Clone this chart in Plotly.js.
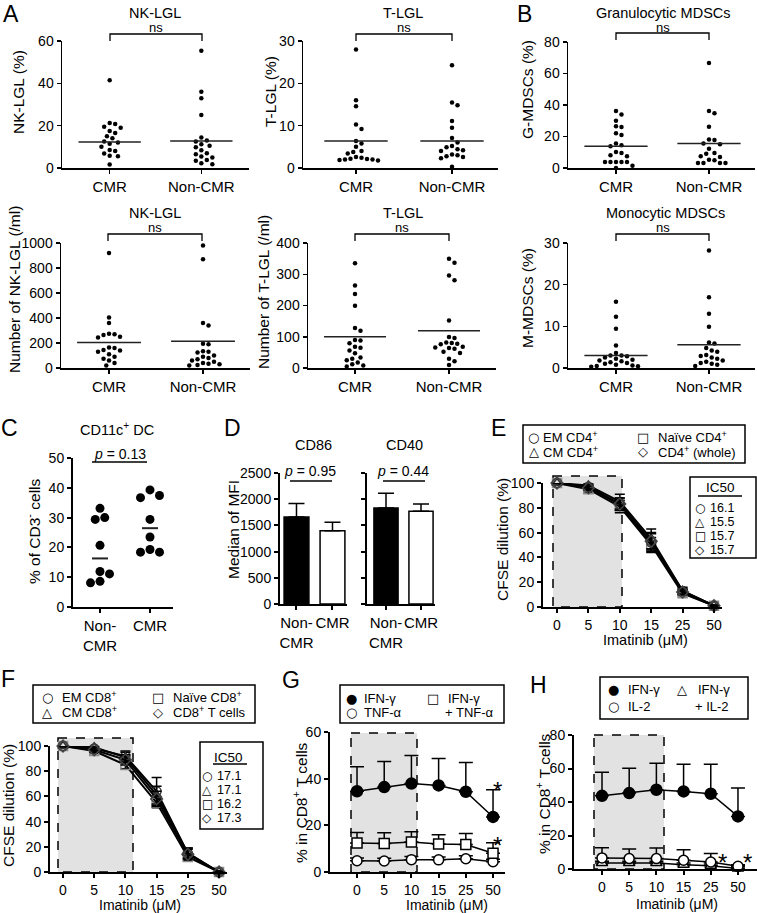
<!DOCTYPE html>
<html><head><meta charset="utf-8">
<script src="https://cdn.plot.ly/plotly-3.0.1.min.js"></script>
<style>body{margin:0;background:#fff}#chart{width:757px;height:913px}</style>
</head><body><div id="chart"></div>
<script>
// ================= DATA =================
const groups = ['CMR', 'Non-CMR'];
const groupsCD = ['Non-<br>CMR', 'CMR'];
const doses = ['0', '5', '10', '15', '25', '50'];

// A: NK-LGL (%)
const nkPctCMR = [41.5, 21.3, 20.8, 19.5, 19.0, 17.5, 16.5, 15, 14, 12.5, 12, 11.5, 10, 8.5, 8, 6.8, 5.8, 5.5, 1.6];
const nkPctNon = [55.4, 36, 33, 25, 14.4, 13, 12.5, 11.2, 10.5, 9.8, 8.4, 7, 6.5, 5.4, 5, 3.8, 3.4, 2.2, 1.8];
const nkPctLine = [12.3, 12.8];
// A: T-LGL (%)
const tPctCMR = [28, 16, 14.6, 10.3, 9.2, 6.4, 5.8, 5, 4, 3.8, 3.4, 2.6, 2.4, 2.2, 2, 2, 1.9, 1.8, 2.1];
const tPctNon = [24.3, 15.5, 14.8, 11.1, 9.5, 7.1, 6, 5.2, 4.9, 4.4, 4.2, 4, 3.2, 3.0, 2.8, 2.6, 2.3, 0.3];
const tPctLine = [6.4, 6.4];
// B: G-MDSCs (%)
const gmCMR = [36.2, 34, 30, 26.5, 26, 22, 21, 15.5, 14.5, 13.8, 10.2, 9.6, 8.1, 7.4, 3.8, 3.8, 3.8, 3.8, 3.8, 1.5, 0];
const gmNon = [66.6, 36.2, 34.7, 26.2, 18.1, 17.7, 15.5, 15.1, 12.3, 9.6, 9.1, 7.4, 7.0, 5.3, 4.9, 3.2, 3.2, 3.2, 3.2];
const gmLine = [13.8, 15.5];
// A: Number of NK-LGL (/ml)
const nkNumCMR = [920, 405, 360, 275, 270, 265, 250, 245, 165, 160, 145, 140, 130, 110, 90, 75, 60, 40, 20];
const nkNumNon = [980, 870, 360, 340, 195, 190, 135, 130, 125, 100, 90, 80, 70, 60, 50, 40, 35, 30, 25, 20];
const nkNumLine = [205, 215];
// A: Number of T-LGL (/ml)
const tNumCMR = [335, 264, 237, 199, 128, 119, 90, 88, 79, 68, 65, 56, 47, 34, 30, 25, 18, 12, 8, 5];
const tNumNon = [350, 337, 296, 281, 152, 99, 96, 82, 80, 78, 76, 68, 66, 64, 62, 52, 48, 30, 22, 10];
const tNumLine = [100, 119];
// B: M-MDSCs (%)
const mmCMR = [15.9, 12.3, 9.4, 5.4, 3.6, 3.0, 3.0, 2.8, 2.5, 2.2, 2.0, 1.8, 1.6, 1.4, 1.2, 1.0, 0.8, 0.6, 0.5, 0.4, 0.3];
const mmNon = [28.2, 17, 13, 9.9, 6.1, 5.9, 4.8, 4.2, 3.9, 3.1, 2.9, 2.5, 2.2, 1.8, 1.5, 1.2, 1.0, 0.8, 0.5];
const mmLine = [3.0, 5.6];
// C: CD11c+ DC (% of CD3- cells)
const dcNon = [33.1, 30.0, 29.4, 20.7, 11.9, 11.1, 8.1, 8.6];
const dcCMR = [37.4, 36.7, 39.3, 29.4, 23.5, 19.3, 18.4, 18.4];
const dcP = '0.13';
// D: Median of MFI
const cd86 = [1660, 1400];
const cd86Err = [260, 160];
const cd40 = [1830, 1770];
const cd40Err = [285, 140];
const dP = ['0.95', '0.44'];
// E: CFSE dilution CD4
const eEM = [100, 97, 83, 52, 13, 1];
const eCM = [100, 98, 85, 55, 13, 1];
const eNaive = [100, 95, 81, 50, 11, 1];
const eWhole = [100, 96, 83, 53, 12, 1];
const eEMErr = [0.5, 2, 5, 7, 2, 0.5];
const eCMErr = [0.5, 2, 6, 8, 3, 0.5];
const eNaiveErr = [0.5, 3, 5, 6, 2, 0.5];
const eWholeErr = [0.5, 2, 5, 7, 2, 0.5];
const eIC50 = ['16.1', '15.5', '15.7', '15.7'];
// F: CFSE dilution CD8
const fEM = [100, 98, 92, 64, 15, 0];
const fCM = [100, 99, 91, 61, 15, 0];
const fNaive = [100, 96, 85, 55, 12, 0];
const fWhole = [100, 97, 89, 58, 14, 0];
const fEMErr = [0.5, 2, 4, 11, 4, 0.5];
const fCMErr = [0.5, 2, 4, 7, 4, 0.5];
const fNaiveErr = [0.5, 2, 3, 4, 3, 0.5];
const fWholeErr = [0.5, 2, 4, 6, 4, 0.5];
const fIC50 = ['17.1', '17.1', '16.2', '17.3'];
// G: % in CD8+ T cells
const gIFN = [34.6, 36.4, 37.9, 37.1, 34.4, 23.6];
const gIFNErr = [10.5, 11, 12, 11.5, 12.5, 11.7];
const gBoth = [12.4, 12.2, 12.9, 12.0, 11.8, 8.0];
const gBothErr = [4.5, 4.6, 4.3, 4.0, 4.7, 4.5];
const gTNF = [4.8, 4.7, 5.3, 5.2, 5.7, 4.4];
const gTNFErr = [1.2, 1.2, 1.3, 1.2, 1.3, 1.1];
// H: % in CD8+ T cells
const hIFN = [43.7, 45.3, 47.3, 46.3, 44.9, 31.4];
const hIFNErr = [14.1, 14.9, 15.8, 16.2, 17.6, 16.9];
const hIL2 = [6.6, 6.2, 6.2, 5.2, 4.2, 1.6];
const hIL2Err = [6.1, 5.7, 6.3, 6.3, 5.0, 1.0];
const hBoth = [3.6, 3.6, 3.6, 2.6, 2.0, 0.3];
const hBothErr = [1.0, 1.0, 1.0, 1.0, 1.0, 0.3];

// ================= LAYOUT HELPERS =================
const W = 757, H = 913;
const FONT = 'Arial, "Liberation Sans", Helvetica, sans-serif';
const SYM = '"DejaVu Sans", sans-serif';
const px = x => x / W, py = y => 1 - y / H;

const S = {
  a1: {n: 1, L: 62, R: 249, T: 41, B: 168, xr: [-0.52, 1.52], yr: [0, 60], yt: [0, 20, 40, 60], xt: groups, lw: 1.5},
  a2: {n: 2, L: 303, R: 498, T: 41, B: 168, xr: [-0.552, 1.479], yr: [0, 30], yt: [0, 10, 20, 30], xt: groups, lw: 1.5},
  b1: {n: 3, L: 568, R: 755, T: 42, B: 168, xr: [-0.516, 1.495], yr: [0, 80], yt: [0, 20, 40, 60, 80], xt: groups, lw: 1.5},
  a3: {n: 4, L: 61, R: 250, T: 243, B: 368, xr: [-0.511, 1.5], yr: [0, 1000], yt: [0, 200, 400, 600, 800, 1000], xt: groups, lw: 1.5},
  a4: {n: 5, L: 308, R: 496, T: 243, B: 368, xr: [-0.5, 1.5], yr: [0, 400], yt: [0, 100, 200, 300, 400], xt: groups, lw: 1.5},
  b2: {n: 6, L: 568, R: 755, T: 243, B: 368, xr: [-0.516, 1.495], yr: [0, 30], yt: [0, 10, 20, 30], xt: groups, lw: 1.5},
  c:  {n: 7, L: 73, R: 173, T: 458, B: 607, xr: [-0.54, 1.46], yr: [0, 50], yt: [0, 10, 20, 30, 40, 50], xt: groupsCD, lw: 2},
  d1: {n: 8, L: 280, R: 347, T: 473, B: 604, xr: [-0.458, 1.403], yr: [0, 2500], yt: [0, 500, 1000, 1500, 2000, 2500], xt: groupsCD, lw: 2},
  d2: {n: 9, L: 367, R: 435, T: 473, B: 604, xr: [-0.543, 1.4], yr: [0, 2500], yt: [0, 500, 1000, 1500, 2000, 2500], xt: groupsCD, lw: 2, noY: true},
  e:  {n: 10, L: 543, R: 722, T: 483, B: 607, xr: [-0.446, 5.255], yr: [0, 100], yt: [0, 20, 40, 60, 80, 100], xt: doses, lw: 2},
  f:  {n: 11, L: 50, R: 227, T: 746, B: 872, xr: [-0.417, 5.256], yr: [0, 100], yt: [0, 20, 40, 60, 80, 100], xt: doses, lw: 2},
  g:  {n: 12, L: 330, R: 505, T: 732, B: 872, xr: [-0.993, 5.44], yr: [0, 60], yt: [0, 20, 40, 60], xt: doses, lw: 2},
  h:  {n: 13, L: 574, R: 757, T: 735, B: 869, xr: [-1.03, 5.7], yr: [0, 80], yt: [0, 20, 40, 60, 80], xt: doses, lw: 2}
};

const layout = {
  width: W, height: H, margin: {l: 0, r: 0, t: 0, b: 0},
  paper_bgcolor: '#fff', plot_bgcolor: 'rgba(0,0,0,0)',
  showlegend: false, hovermode: false,
  font: {family: FONT, color: '#000'},
  shapes: [], annotations: []
};

Object.values(S).forEach(s => {
  const k = s.n === 1 ? '' : String(s.n);
  const common = {showline: true, linecolor: '#000', linewidth: s.lw, ticks: 'outside', ticklen: 4,
    tickwidth: s.lw, tickcolor: '#000', showgrid: false, zeroline: false, fixedrange: true,
    tickfont: {family: FONT, size: 14, color: '#000'}};
  layout['xaxis' + k] = Object.assign({}, common, {
    domain: [px(s.L), Math.min(1, px(s.R))], anchor: 'y' + k, range: s.xr, tickangle: 0,
    tickvals: s.xt.map((t, i) => i), ticktext: s.xt,
    tickfont: {family: FONT, size: s.xt === doses ? 14 : 15, color: '#000'}
  });
  layout['yaxis' + k] = Object.assign({}, common, {
    domain: [py(s.B), py(s.T)], anchor: 'x' + k, range: s.yr, tickvals: s.yt,
    showticklabels: !s.noY
  });
});

const traces = [];
function ax(s) { const k = s.n === 1 ? '' : String(s.n); return {xaxis: 'x' + k, yaxis: 'y' + k}; }

// beeswarm offsets (layout only)
function swarm(vals, pyu, pxu, d) {
  const order = vals.map((v, i) => i).sort((a, b) => vals[b] - vals[a]);
  const placed = [], off = new Array(vals.length).fill(0);
  for (const i of order) {
    const y = vals[i] * pyu;
    for (let j = 0; j < 80; j++) {
      const kk = Math.ceil(j / 2) * (j % 2 ? 1 : -1);
      const x = kk * d * 0.5;
      if (placed.every(p => Math.hypot(p.x - x, p.y - y) >= d)) { placed.push({x, y}); off[i] = x / pxu; break; }
    }
  }
  return off;
}

function dotPanel(s, sets, lines, size, d, half, lw) {
  const pyu = (s.B - s.T) / (s.yr[1] - s.yr[0]);
  const pxu = (s.R - s.L) / (s.xr[1] - s.xr[0]);
  sets.forEach((vals, c) => {
    const off = swarm(vals, pyu, pxu, d);
    traces.push(Object.assign({type: 'scatter', mode: 'markers', x: vals.map((v, i) => c + off[i]), y: vals,
      marker: {size: size, color: '#000'}, cliponaxis: false}, ax(s)));
    traces.push(Object.assign({type: 'scatter', mode: 'lines', x: [c - half, c + half], y: [lines[c], lines[c]],
      line: {color: '#222', width: lw}, cliponaxis: false}, ax(s)));
  });
}

const median = a => { const b = [...a].sort((x, y) => x - y); const m = b.length / 2; return b.length % 2 ? b[Math.floor(m)] : (b[m - 1] + b[m]) / 2; };

dotPanel(S.a1, [nkPctCMR, nkPctNon], nkPctLine, 4.5, 5.5, 0.34, 1.5);
dotPanel(S.a2, [tPctCMR, tPctNon], tPctLine, 4.5, 5.5, 0.33, 1.5);
dotPanel(S.b1, [gmCMR, gmNon], gmLine, 4.5, 5.5, 0.34, 1.5);
dotPanel(S.a3, [nkNumCMR, nkNumNon], nkNumLine, 4.5, 5.5, 0.34, 1.5);
dotPanel(S.a4, [tNumCMR, tNumNon], tNumLine, 4.5, 5.5, 0.33, 1.5);
dotPanel(S.b2, [mmCMR, mmNon], mmLine, 4.5, 5.5, 0.34, 1.5);
dotPanel(S.c, [dcNon, dcCMR], [median(dcNon), median(dcCMR)], 9, 9.5, 0.16, 2);

// D bars
function barPanel(s, vals, errs) {
  traces.push(Object.assign({type: 'bar', x: [0, 1], y: vals, width: 0.69,
    marker: {color: ['#000', '#fff'], line: {color: '#000', width: 1.5}},
    error_y: {type: 'data', array: errs, arrayminus: errs.map(() => 0), symmetric: false, color: '#000', thickness: 1.5, width: 8}
  }, ax(s)));
}
barPanel(S.d1, cd86, cd86Err);
barPanel(S.d2, cd40, cd40Err);
layout.barmode = 'overlay';

// E/F lines
const xi = doses.map((d, i) => i);
function cfse(s, ser, errs, syms, cols) {
  ser.forEach((v, j) => {
    traces.push(Object.assign({type: 'scatter', mode: 'lines+markers', x: xi, y: v, cliponaxis: false,
      line: {color: '#000', width: 2},
      marker: {symbol: syms[j], size: 9, color: cols[j], line: {color: cols[j], width: 1.5}},
      error_y: {type: 'data', array: errs[j], color: '#000', thickness: 1.5, width: 5}
    }, ax(s)));
  });
}
const cfSyms = ['circle-open', 'triangle-up-open', 'square-open', 'diamond-open'];
const cfCols = ['#333', '#333', '#8a8a8a', '#444'];
cfse(S.e, [eNaive, eEM, eCM, eWhole], [eNaiveErr, eEMErr, eCMErr, eWholeErr], [cfSyms[2], cfSyms[0], cfSyms[1], cfSyms[3]], [cfCols[2], cfCols[0], cfCols[1], cfCols[3]]);
cfse(S.f, [fNaive, fEM, fCM, fWhole], [fNaiveErr, fEMErr, fCMErr, fWholeErr], [cfSyms[2], cfSyms[0], cfSyms[1], cfSyms[3]], [cfCols[2], cfCols[0], cfCols[1], cfCols[3]]);

// G/H cytokines
function cyto(s, v, err, symbol, fill, size) {
  traces.push(Object.assign({type: 'scatter', mode: 'lines+markers', x: xi, y: v, cliponaxis: false,
    line: {color: '#000', width: 1.5},
    marker: {symbol: symbol, size: size, color: fill, line: {color: '#000', width: 1.5}},
    error_y: {type: 'data', array: err, arrayminus: err.map(() => 0), symmetric: false, color: '#000', thickness: 1.5, width: 7}
  }, ax(s)));
}
cyto(S.g, gTNF, gTNFErr, 'circle', '#fff', 10);
cyto(S.g, gBoth, gBothErr, 'square', '#fff', 10);
cyto(S.g, gIFN, gIFNErr, 'circle', '#000', 11);
cyto(S.h, hBoth, hBothErr, 'triangle-up', '#fff', 10);
cyto(S.h, hIL2, hIL2Err, 'circle', '#fff', 10);
cyto(S.h, hIFN, hIFNErr, 'circle', '#000', 11);

// ================= DECORATIONS =================
function A(text, x, y, size, o) {
  layout.annotations.push(Object.assign({text: text, x: px(x), y: py(y), xref: 'paper', yref: 'paper', showarrow: false,
    xanchor: 'center', yanchor: 'middle', font: {family: FONT, size: size || 14, color: '#000'}}, o || {}));
}
function rect(x0, y0, x1, y1, o) {
  layout.shapes.push(Object.assign({type: 'rect', xref: 'paper', yref: 'paper', x0: px(x0), x1: px(x1), y0: py(y0), y1: py(y1),
    line: {color: '#000', width: 1.5}, fillcolor: 'rgba(0,0,0,0)', layer: 'above'}, o || {}));
}
function hline(x0, x1, y, w) {
  layout.shapes.push({type: 'line', xref: 'paper', yref: 'paper', x0: px(x0), x1: px(x1), y0: py(y), y1: py(y), line: {color: '#000', width: w || 1.3}});
}
function bracket(x0, x1, yt, yb) {
  layout.shapes.push({type: 'path', xref: 'paper', yref: 'paper',
    path: `M ${px(x0)},${py(yb)} L ${px(x0)},${py(yt)} L ${px(x1)},${py(yt)} L ${px(x1)},${py(yb)}`,
    line: {color: '#000', width: 1.3}});
}

// panel letters
[['A', 11, 14], ['B', 524, 14], ['C', 9, 428], ['D', 232, 428], ['E', 499, 428], ['F', 8, 679], ['G', 291, 680], ['H', 538, 685]]
  .forEach(l => A(l[0], l[1], l[2], 23));

// row 1 & 2 titles, ns, brackets
A('NK-LGL', 155, 13, 14.5); A('ns', 156, 27, 13); bracket(110, 202, 34, 41);
A('T-LGL', 403, 13, 14.5); A('ns', 404, 27, 13); bracket(356, 452, 34, 41);
A('Granulocytic MDSCs', 663, 13, 14.5); A('ns', 663, 27, 13); bracket(616, 709, 33, 40);
A('NK-LGL', 155, 213, 14.5); A('ns', 155, 228, 13); bracket(108, 202, 234, 241);
A('T-LGL', 403, 213, 14.5); A('ns', 402, 228, 13); bracket(355, 449, 234, 241);
A('Monocytic MDSCs', 665, 213, 14.5); A('ns', 663, 228, 13); bracket(616, 709, 234, 241);

// y titles
const rot = {textangle: -90};
A('NK-LGL (%)', 18, 92, 15.5, rot);
A('T-LGL (%)', 270, 92, 15.5, rot);
A('G-MDSCs (%)', 527, 90, 15.5, rot);
A('Number of NK-LGL (/ml)', 14, 290, 15.5, rot);
A('Number of T-LGL (/ml)', 263, 292, 15.5, rot);
A('M-MDSCs (%)', 527, 298, 15.5, rot);
A('% of CD3<sup>-</sup> cells', 33, 531, 15.5, rot);
A('Median of MFI', 233, 530, 15.5, rot);
A('CFSE dilution (%)', 502, 540, 15.5, rot);
A('CFSE dilution (%)', 8, 806, 15.5, rot);
A('% in CD8<sup>+</sup> T cells', 300, 803, 15.5, rot);
A('% in CD8<sup>+</sup> T cells', 543, 794, 15.5, rot);

// x titles
A('Imatinib (μM)', 645, 640, 14.5);
A('Imatinib (μM)', 140, 904.5, 14);
A('Imatinib (μM)', 447, 904.5, 14);
A('Imatinib (μM)', 677, 904, 14);

// C & D titles and p values
A('CD11c<sup>+</sup> DC', 117, 429, 14.5);
A('<i>p</i> = ' + dcP, 120, 454, 14); hline(92, 147, 462);
A('CD86', 313, 445, 14.5); A('CD40', 405, 445, 14.5);
A('<i>p</i> = ' + dP[0], 310, 471, 14); hline(290, 332, 481);
A('<i>p</i> = ' + dP[1], 403, 471, 14); hline(383, 425, 481);

// shaded imatinib windows
const shade = {layer: 'below', fillcolor: '#e2e2e2', line: {color: '#000', width: 1.5, dash: 'dash'}};
rect(553, 476, 622, 607, shade);
rect(58, 738, 133, 872, shade);
rect(351, 733, 417, 872, shade);
rect(594, 735, 664, 869, shade);

const LS = 13;   // legend font size
const IS = 12;   // IC50 symbol size
const IT = 12.5; // IC50 text size
// E legend
rect(523, 425, 745, 463);
const symF = sz => ({font: {family: SYM, size: sz, color: '#000'}});
A('○', 533, 437, LS, symF(LS)); A('△', 534, 452, LS, symF(LS));
A('□', 643, 437, LS, symF(LS)); A('◇', 643, 452, LS, symF(LS));
const L = {xanchor: 'left'};
A('EM CD4<sup>+</sup>', 541, 437, LS, L); A('CM CD4<sup>+</sup>', 541, 452, LS, L);
A('Naïve CD4<sup>+</sup>', 656, 437, LS, L); A('CD4<sup>+</sup> (whole)', 656, 452, LS, L);
// E IC50
rect(690, 477, 756, 558);
A('IC50', 720, 488, 13.5); hline(698, 742, 496);
['○', '△', '□', '◇'].forEach((g, i) => {
  const y = [508, 522, 536, 550][i];
  A(g, 700, y, IS, symF(IS)); A(eIC50[i], 708, y, IT, L);
});

// F legend
rect(33, 685, 255, 723);
A('○', 47, 697, LS, symF(LS)); A('△', 47, 712, LS, symF(LS));
A('□', 158, 697, LS, symF(LS)); A('◇', 158, 712, LS, symF(LS));
A('EM CD8<sup>+</sup>', 60, 697, LS, L); A('CM CD8<sup>+</sup>', 60, 712, LS, L);
A('Naïve CD8<sup>+</sup>', 171, 697, LS, L); A('CD8<sup>+</sup> T cells', 171, 712, LS, L);
// F IC50
rect(200, 742, 263, 829);
A('IC50', 229, 757, 13.5); hline(213, 247, 764);
['○', '△', '□', '◇'].forEach((g, i) => {
  const y = [776, 790, 804, 818][i];
  A(g, 207, y, IS, symF(IS)); A(fIC50[i], 215, y, IT, L);
});

// G legend
rect(340, 685, 504, 723);
A('●', 351, 698, LS, symF(LS)); A('○', 351, 712, LS, symF(LS)); A('□', 433, 698, LS, symF(LS));
A('IFN-γ', 362, 698, LS, L); A('TNF-α', 362, 712, LS, L);
A('IFN-γ', 446, 698, LS, L); A('+ TNF-α', 443, 712, LS, L);
// H legend
rect(600, 677, 748, 719);
A('●', 613, 689, LS, symF(LS)); A('○', 613, 706, LS, symF(LS)); A('△', 682, 689, LS, symF(LS));
A('IFN-γ', 626, 689, LS, L); A('IL-2', 626, 706, LS, L);
A('IFN-γ', 696, 689, LS, L); A('+ IL-2', 693, 706, LS, L);

// asterisks
A('*', 497, 790, 24); A('*', 497, 845, 24);
A('*', 722, 862, 24); A('*', 747, 862, 24);

Plotly.newPlot('chart', traces, layout, {displayModeBar: false, staticPlot: true});
</script>
</body></html>
